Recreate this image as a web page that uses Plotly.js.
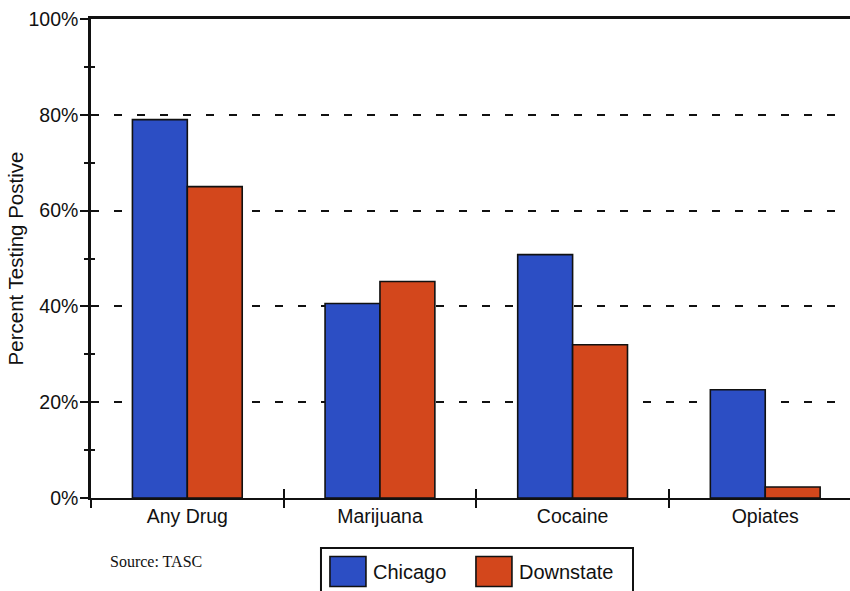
<!DOCTYPE html>
<html>
<head>
<meta charset="utf-8">
<script src="https://cdn.plot.ly/plotly-3.0.1.min.js"></script>
<style>html,body{margin:0;padding:0;background:#fff;}#chart{width:850px;height:591px;}</style>
</head>
<body>
<div id="chart"></div>
<script>
// ---- data ----
const categories = ["Any Drug", "Marijuana", "Cocaine", "Opiates"];
const chicago = [79, 40.6, 50.8, 22.6];
const downstate = [65, 45.2, 32, 2.3];
const seriesNames = ["Chicago", "Downstate"];
const yTickVals = [0, 20, 40, 60, 80, 100];
const yTickText = ["0%", "20%", "40%", "60%", "80%", "100%"];
const yTitle = "Percent Testing Postive";
const sourceNote = "Source: TASC";

const BLUE = "#2c4ec4";
const RED = "#d3471c";
const FONT = "Liberation Sans, Arial, sans-serif";

const traces = [
  {type: "bar", name: seriesNames[0], x: categories, y: chicago,
   marker: {color: BLUE, line: {color: "#111", width: 1.6}}, hoverinfo: "x+y"},
  {type: "bar", name: seriesNames[1], x: categories, y: downstate,
   marker: {color: RED, line: {color: "#111", width: 1.6}}, hoverinfo: "x+y"},
  // empty helper traces so the overlay axes (crossing ticks, top frame line) get drawn
  {type: "scatter", x: [], y: [], xaxis: "x2", yaxis: "y", showlegend: false, hoverinfo: "skip"},
  {type: "scatter", x: [], y: [], xaxis: "x", yaxis: "y2", showlegend: false, hoverinfo: "skip"},
  {type: "scatter", x: [], y: [], xaxis: "x3", yaxis: "y", showlegend: false, hoverinfo: "skip"}
];

const xRange = [-0.5, 3.44];
const layout = {
  width: 850, height: 591,
  margin: {l: 91, r: 0, t: 19, b: 92},
  paper_bgcolor: "#fff", plot_bgcolor: "#fff",
  barmode: "group", bargap: 0.43, bargroupgap: 0,
  font: {family: FONT, color: "#111"},
  showlegend: true,
  legend: {
    orientation: "h", x: 0.3056, xanchor: "left", y: -0.1125, yanchor: "top",
    borderwidth: 0, bgcolor: "rgba(0,0,0,0)",
    font: {family: FONT, size: 20, color: "#111"},
    itemwidth: 40, entrywidth: 91, itemclick: false, itemdoubleclick: false
  },
  shapes: [
    // legend frame (extends past the bottom edge like the reference)
    {type: "rect", xref: "paper", yref: "paper", x0: 0.303, x1: 0.7141, y0: -0.1042, y1: -0.2,
     line: {color: "#111", width: 2}, fillcolor: "rgba(0,0,0,0)", layer: "above"}
  ],
  xaxis: {
    type: "category", categoryorder: "array", categoryarray: categories,
    range: xRange, fixedrange: true,
    showline: true, linecolor: "#111", linewidth: 2,
    ticks: "outside", tickson: "boundaries", ticklen: 8, tickwidth: 2, tickcolor: "#111",
    tickfont: {family: FONT, size: 19.5, color: "#111"},
    showgrid: false, zeroline: false
  },
  xaxis2: {
    type: "category", categoryorder: "array", categoryarray: categories,
    overlaying: "x", side: "bottom", anchor: "y", range: xRange, fixedrange: true,
    showline: false, ticks: "inside", tickson: "boundaries", ticklen: 9, tickwidth: 2, tickcolor: "#111",
    showticklabels: false, showgrid: false, zeroline: false
  },
  xaxis3: {
    type: "linear", overlaying: "x", side: "top", anchor: "y", range: [0, 1], fixedrange: true,
    showline: true, linecolor: "#111", linewidth: 2.5,
    ticks: "", showticklabels: false, showgrid: false, zeroline: false
  },
  yaxis: {
    range: [0, 100], fixedrange: true,
    tickvals: yTickVals, ticktext: yTickText,
    ticks: "outside", ticklen: 8, tickwidth: 2, tickcolor: "#111",
    ticklabelstandoff: -2,
    minor: {dtick: 10, ticks: "outside", ticklen: 4, tickwidth: 2, tickcolor: "#111", showgrid: false},
    tickfont: {family: FONT, size: 19.5, color: "#111"},
    showline: true, linecolor: "#111", linewidth: 2.5,
    showgrid: true, gridcolor: "#111", gridwidth: 2.2, griddash: "8px,15px",
    zeroline: false,
    title: {text: yTitle, font: {family: FONT, size: 20.5, color: "#111"}, standoff: 0}
  },
  yaxis2: {
    type: "linear", overlaying: "y", side: "left", anchor: "x", range: [0, 100], fixedrange: true,
    tickvals: yTickVals, showticklabels: false,
    ticks: "inside", ticklen: 6, tickwidth: 2, tickcolor: "#111",
    minor: {dtick: 10, ticks: "inside", ticklen: 4, tickwidth: 2, tickcolor: "#111", showgrid: false},
    showline: false, showgrid: false, zeroline: false
  },
  annotations: [
    {text: sourceNote, xref: "paper", yref: "paper", x: 0.022, y: -0.133,
     xanchor: "left", yanchor: "middle", showarrow: false,
     font: {family: "Liberation Serif, Times New Roman, serif", size: 16, color: "#111"}}
  ]
};

Plotly.newPlot("chart", traces, layout, {displayModeBar: false}).then(function (gd) {
  // enlarge legend swatches to match the reference's big colour boxes
  const pts = gd.querySelectorAll(".legend .legendpoints path");
  pts.forEach(function (p) { p.setAttribute("d", "M18,15H-18V-15H18Z"); });
});
</script>
</body>
</html>
